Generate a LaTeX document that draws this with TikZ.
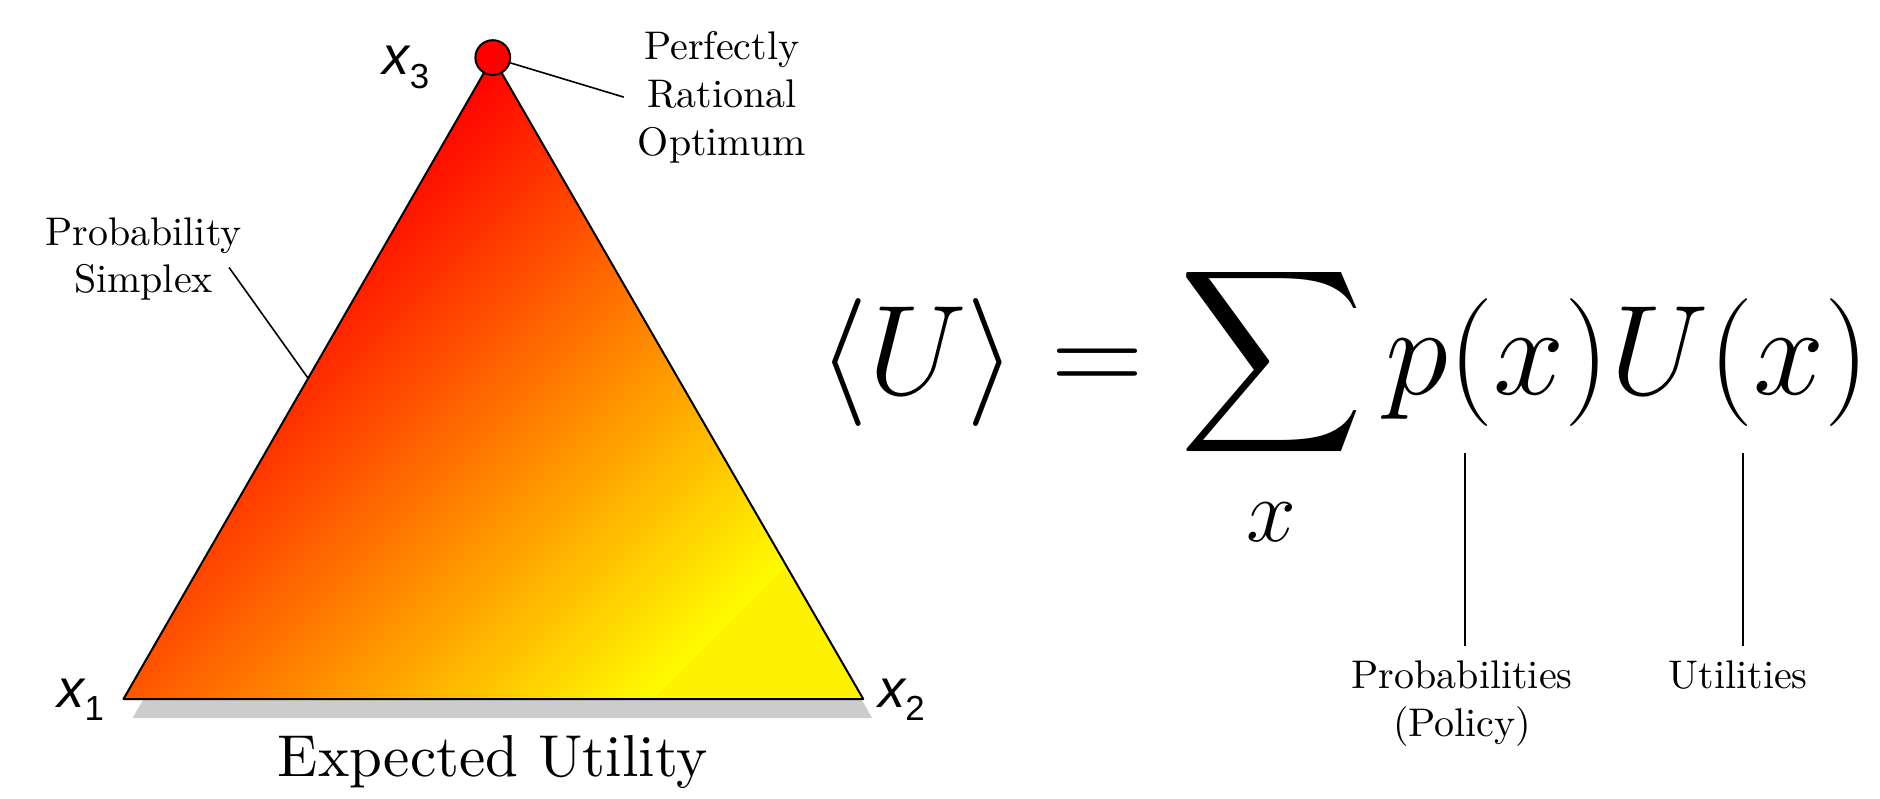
\documentclass[tikz,border=0pt]{standalone}
\usepackage{fix-cm}
\usepackage{exscale}
\usepackage{fontspec}
\usepackage{tikz}
\usetikzlibrary{positioning,shadows,calc}

\DeclareFontShape{OMX}{cmex}{m}{n}{<->cmex10}{}
\newfontfamily\vertexfont{Liberation Sans}
\newfontfamily\captionfont{lmroman10-regular.otf}
\newcommand{\vtxlabel}[1]{{\itshape x}\raisebox{-3.3pt}{\fontsize{8.7}{10}\selectfont #1}}

\begin{document}
\begin{tikzpicture}[
  x=0.3pt, y=-0.3pt,
  edge/.style={line width=0.5pt, line join=round},
  callout/.style={line width=0.4pt},
  lbl/.style={align=center, font=\normalsize},
  vtx/.style={anchor=base west, inner sep=0pt, font=\vertexfont\fontsize{13.5}{16}\selectfont},
  optimum/.style={circle, draw, line width=0.5pt, fill=red, minimum size=8.7pt, inner sep=0pt}
]
  \useasboundingbox (0,0) rectangle (1568,666);
  % corners of the simplex
  \coordinate (v1) at (103,583);
  \coordinate (v2) at (720,583);
  \coordinate (v3) at (411,48);
  % shadow, then the red-yellow fill
  \path[fill=yellow, general shadow={fill=black!20, shadow xshift=2.25pt, shadow yshift=-4.8pt}] (v1) -- (v2) -- (v3) -- cycle;
  \begin{scope}
    \clip (v1) -- (v2) -- (v3) -- cycle;
    \begin{scope}[transform canvas={rotate around={-45:(576.5,213.5)}}]
      \shade[left color=red, right color=yellow] (342.5,-500) rectangle (820,930);
      \fill[yellow] (815,-500) rectangle (1300,930);
    \end{scope}
  \end{scope}
  \draw[edge] (v1) -- (v2) -- (v3) -- cycle;
  \node[optimum] (opt) at (v3) {};

  \node[vtx] (x1) at (47.5,590) {\vtxlabel{1}};
  \node[vtx] (x2) at (732,590) {\vtxlabel{2}};
  \node[vtx] (x3) at (318.6,62.5) {\vtxlabel{3}};

  \node[lbl] (optlbl) at (602,81) {Perfectly\\Rational\\Optimum};
  \draw[callout] (opt) -- (optlbl.west);

  \node[lbl] (simplexlbl) at (119.7,216) {Probability\\Simplex};
  \coordinate (simplexpt) at ($(v1)!0.5!(v3)$);
  \coordinate (simplextip) at (191,223);
  \draw[callout] (simplexpt) -- (simplextip);

  \node[anchor=base, font=\captionfont\fontsize{14.8}{18}\selectfont] (eu) at (411,648) {Expected Utility};

  % the expected utility formula
  \node[anchor=base west, inner sep=0pt, font=\fontsize{32}{38}\selectfont] (eq) at (682,329)
    {$\displaystyle \langle U\rangle = \sum_x p(x)U(x)$};

  \node[lbl, anchor=north] (problbl) at (1219.5,539) {Probabilities\\(Policy)};
  \node[lbl, anchor=north] (utillbl) at (1449.7,539) {Utilities};
  \coordinate (ptip) at (1222,378);
  \coordinate (utip) at (1453.5,378);
  \draw[callout] (ptip) -- (ptip |- problbl.north);
  \draw[callout] (utip) -- (utip |- utillbl.north);
\end{tikzpicture}
\end{document}
